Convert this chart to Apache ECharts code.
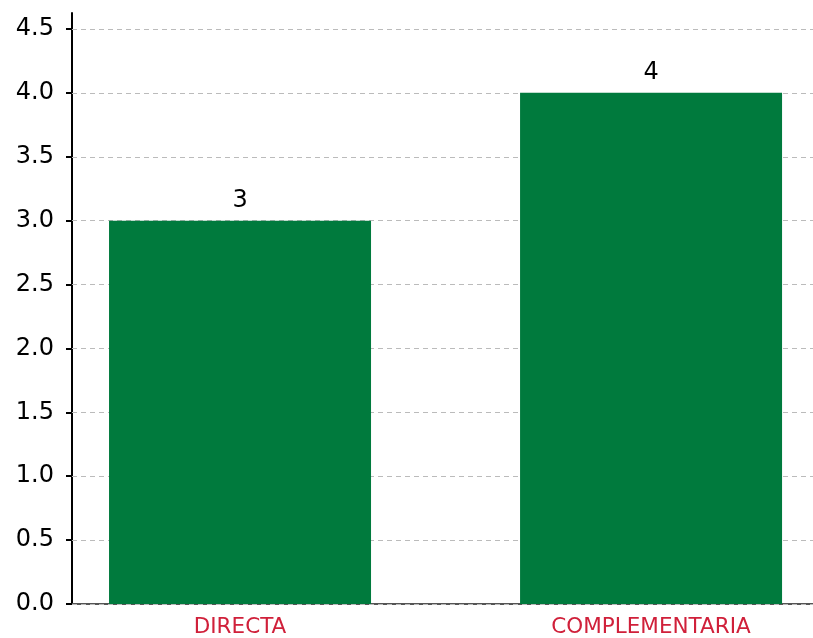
<!DOCTYPE html>
<html><head><meta charset="utf-8">
<script src="https://cdn.jsdelivr.net/npm/echarts@6/dist/echarts.min.js"></script>
<style>html,body{margin:0;padding:0;background:#fff}#c{width:813px;height:638px}</style>
</head><body><div id="c"></div>
<script>
const categories = ['DIRECTA', 'COMPLEMENTARIA'];
const values = [3, 4];
const yTicks = [0, 0.5, 1, 1.5, 2, 2.5, 3, 3.5, 4, 4.5];

const chart = echarts.init(document.getElementById('c'));
const barData = values.map((v, i) => [i, v]);
chart.setOption({
  animation: false,
  backgroundColor: '#ffffff',
  grid: {left: 72, right: 0, top: 13, bottom: 31, containLabel: false},
  xAxis: {
    type: 'value', min: -0.4088, max: 1.394,
    splitLine: {show: false},
    axisLine: {show: true, onZero: false, lineStyle: {color: '#555', width: 2}},
    axisTick: {show: false},
    axisLabel: {
      customValues: categories.map((c, i) => i),
      formatter: v => categories[Math.round(v)] || '',
      color: '#d0203a', fontSize: 21.5, fontFamily: 'DejaVu Sans', margin: 12
    }
  },
  yAxis: {
    type: 'value', min: 0, max: 4.625,
    splitLine: {show: false},
    axisLine: {show: true, onZero: false, lineStyle: {color: '#000', width: 2}},
    axisTick: {show: true, customValues: yTicks, length: 6, lineStyle: {color: '#000', width: 2}},
    axisLabel: {
      customValues: yTicks,
      formatter: v => v.toFixed(1),
      color: '#000', fontSize: 24, fontFamily: 'DejaVu Sans', margin: 18
    }
  },
  series: [{
    type: 'bar',
    data: barData,
    barWidth: 262,
    itemStyle: {color: '#007a3d'},
    label: {show: true, position: 'top', distance: 8, color: '#000', fontSize: 24, fontFamily: 'DejaVu Sans'},
    z: 3,
    markLine: {
      silent: true, symbol: 'none', z: 1,
      label: {show: false},
      lineStyle: {type: [5, 4], color: '#bbbbbb', width: 1},
      data: yTicks.map(t => ({yAxis: t}))
    }
  }]
});
</script></body></html>
